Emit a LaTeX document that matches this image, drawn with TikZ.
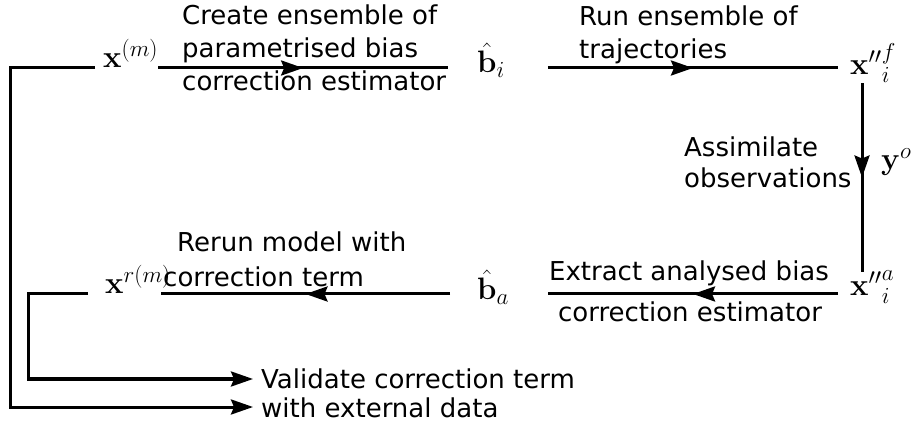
\RequirePackage{fix-cm}
\documentclass[tikz,border=0pt]{standalone}
\usepackage[no-math]{fontspec}
\setmainfont{DejaVu Sans}
\usepackage{tikz}
\usetikzlibrary{arrows.meta, decorations.markings}
\DeclareMathSizes{31}{31}{23}{17}

\tikzset{
  state/.style={inner sep=0pt, text height=15pt, text depth=15pt, anchor=base west,
    font=\fontsize{31}{36}\selectfont},
  lbl/.style={inner sep=0pt, anchor=west},
  flow/.style={line width=3pt, postaction={decorate},
    decoration={markings, mark=at position 0.5 with {\arrow{Stealth[length=22pt,width=15pt,inset=3pt]}}}},
  back/.style={line width=3pt, -{Stealth[length=22pt,width=15pt,inset=3pt]}, shorten >=4pt},
}

\begin{document}
\begin{tikzpicture}[x=1pt, y=-1pt]
\useasboundingbox (0,0) rectangle (918,427);

% states of the cycle
\node[state] (xm) at (103,68) {$\mathbf{x}^{(m)}$};
\node[state] (bi) at (477,73) {$\hat{\mathbf{b}}_i$};
\node[state] (xf) at (850,75) {${\mathbf{x}''}^f_i$};
\node[state] (xa) at (850,296) {${\mathbf{x}''}^a_i$};
\node[state] (ba) at (477,300) {$\hat{\mathbf{b}}_a$};
\node[state] (xr) at (105,294) {$\mathbf{x}^{r(m)}$};
\node[state] (yo) at (881,170) {$\mathbf{y}^o$};

% step labels
\node[lbl, align=left, font=\fontsize{26}{33}\selectfont] (create) at (182,48)
  {Create ensemble of\\parametrised bias\\correction estimator};
\node[lbl, align=left, font=\fontsize{26}{33}\selectfont] (run) at (579,35)
  {Run ensemble of\\trajectories};
\node[lbl, align=left, font=\fontsize{26}{31}\selectfont] (assim) at (684,162)
  {Assimilate\\observations};
\node[lbl, anchor=base, font=\fontsize{26}{31}\selectfont] (extract) at (689,281)
  {Extract analysed bias};
\node[lbl, anchor=base, font=\fontsize{26}{31}\selectfont] (extractb) at (690,322)
  {correction estimator};
\node[lbl, align=left, font=\fontsize{26}{35}\selectfont] (rerun) at (163,259)
  {\hspace*{14pt}Rerun model with\\correction term};
\node[lbl, align=left, inner xsep=4pt, font=\fontsize{26}{29}\selectfont] (valid) at (257,393)
  {Validate correction term\\with external data};

% cycle
\draw[flow] (xm.east) -- ([xshift=-29pt]xm.east -| bi.west);
\draw[flow] ([xshift=43pt]xm.east -| bi.east) -- ([xshift=-12pt]xm.east -| xf.west);
\draw[flow] ([xshift=12pt,yshift=7pt]xf.south west) -- ([xshift=12pt,yshift=9pt]xa.north west);
\draw[flow] ([xshift=-12pt]xr.east -| xa.west) -- ([xshift=39pt]xr.east -| ba.east);
\draw[flow] ([xshift=-27pt]xr.east -| ba.west) -- ([xshift=-10pt]xr.east);

% validation
\draw[back] ([xshift=-8pt]xm.west) -- ++(-85,0) |- ([yshift=-14pt]valid.west);
\draw[back] ([xshift=-17pt]xr.west) -- ++(-60,0) |- ([yshift=14pt]valid.west);
\end{tikzpicture}
\end{document}
